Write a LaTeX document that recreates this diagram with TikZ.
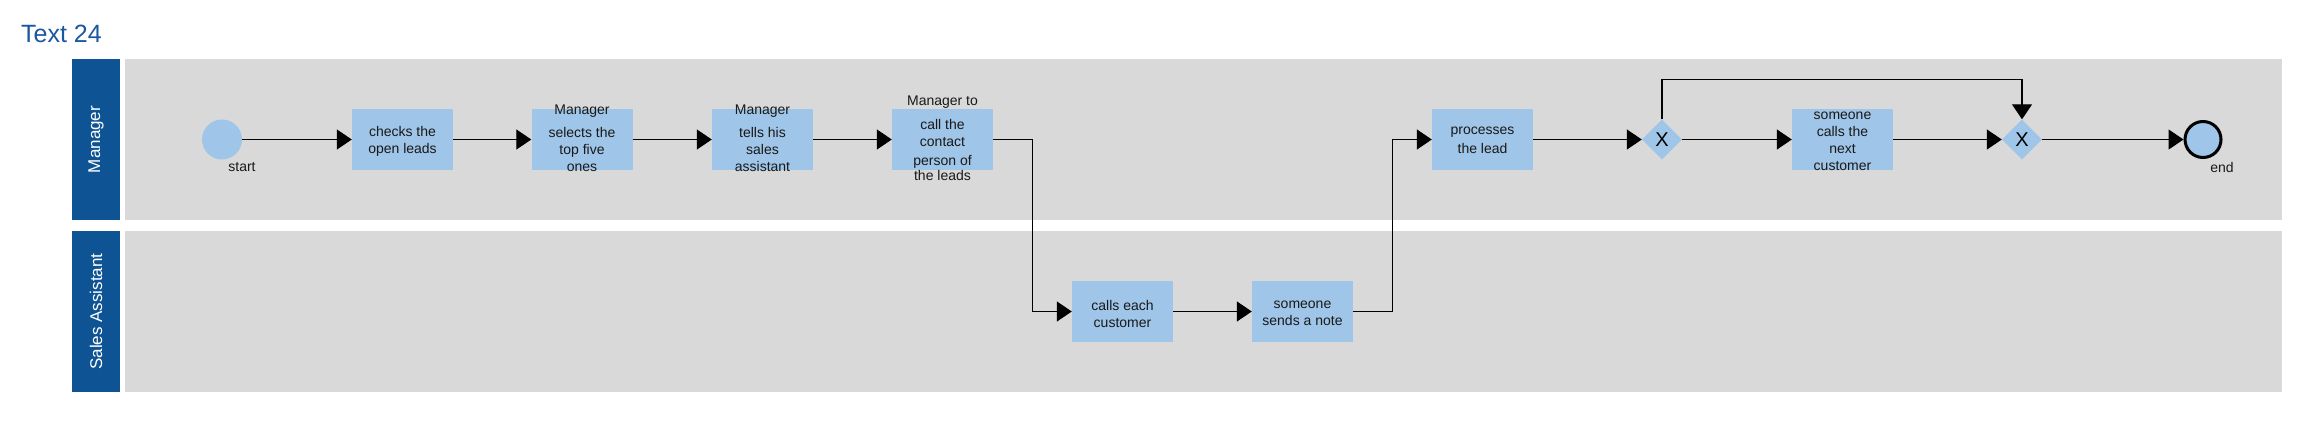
\documentclass[tikz,border=0pt]{standalone}
\usepackage{fontspec}
\setmainfont{Liberation Sans}
\usetikzlibrary{arrows.meta,shapes.geometric}
\definecolor{laneblue}{RGB}{14,83,148}
\definecolor{titleblue}{RGB}{26,88,160}
\definecolor{lanegray}{RGB}{217,217,217}
\definecolor{boxblue}{RGB}{159,197,232}
\begin{document}
\begin{tikzpicture}[x=1pt,y=-1pt,
  lanebar/.style={fill=laneblue,draw=none},
  laneback/.style={fill=lanegray,draw=none},
  lanelabel/.style={rotate=90,text=white,font=\fontsize{17}{20}\selectfont,inner sep=0},
  task/.style={rectangle,fill=boxblue,draw=none,minimum width=101pt,minimum height=61pt,inner sep=0},
  tasktext/.style={align=center,font=\fontsize{14}{17}\selectfont,inner sep=0,text=black!90},
  evtlabel/.style={font=\fontsize{14}{17}\selectfont,inner sep=0,text=black!90},
  gate/.style={diamond,aspect=1,fill=boxblue,draw=none,minimum width=40pt,minimum height=40pt,inner sep=0,font=\fontsize{20}{24}\selectfont},
  startev/.style={circle,fill=boxblue,draw=none,minimum size=40pt,inner sep=0},
  endev/.style={circle,fill=boxblue,draw=black,line width=3pt,minimum size=36pt,inner sep=0},
  flow/.style={draw=black,line width=1.2pt,-{Triangle[length=15pt,width=20pt]}}
]
\useasboundingbox (0,0) rectangle (2299,433);
\fill[white] (0,0) rectangle (2299,433);
% title
\node[anchor=base west,text=titleblue,font=\fontsize{25}{30}\selectfont,inner sep=0] (title) at (21,43) {Text 24};
% lanes
\fill[lanebar] (72,59) rectangle (120,220);
\fill[laneback] (125,59) rectangle (2282,220);
\fill[lanebar] (72,231) rectangle (120,392);
\fill[laneback] (125,231) rectangle (2282,392);
\node[lanelabel] (lmgr) at (96,139.5) {Manager};
\node[lanelabel] (lsa) at (96,311.5) {Sales Assistant};
% events
\node[startev] (start) at (222,139.5) {};
\node[evtlabel] (startlbl) at (242,167) {start};
\node[endev] (end) at (2203,139.5) {};
\node[evtlabel] (endlbl) at (2222,167) {end};
% tasks
\node[task] (b1) at (402.5,139.5) {};
\node[task] (b2) at (582,139.5) {};
\node[task] (b3) at (762.5,139.5) {};
\node[task] (b4) at (942.5,139.5) {};
\node[task] (b5) at (1122.5,311.5) {};
\node[task] (b6) at (1302.5,311.5) {};
\node[task] (b7) at (1482.5,139.5) {};
\node[task] (b8) at (1842.5,139.5) {};
\node[tasktext] (t1) at (402.5,141) {checks the\\open leads};
\node[tasktext] (t2) at (582,138.5) {Manager\\[6pt]selects the\\top five\\ones};
\node[tasktext] (t3) at (762.5,138.5) {Manager\\[6pt]tells his\\sales\\assistant};
\node[tasktext] (t4) at (942.5,137.8) {Manager to\\[7pt]call the\\contact\\[2pt]person of\\[-2pt]the leads};
\node[tasktext] (t5) at (1122.5,313.5) {calls each\\customer};
\node[tasktext] (t6) at (1302.5,313.5) {someone\\sends a note};
\node[tasktext] (t7) at (1482.5,140.5) {processes\\[2pt]the lead};
\node[tasktext] (t8) at (1842.5,141.7) {someone\\calls the\\next\\customer};
% gateways
\node[gate] (g1) at (1662,139.5) {X};
\node[gate] (g2) at (2022,139.5) {X};
% flows
\draw[flow] (start) -- (b1);
\draw[flow] (b1) -- (b2);
\draw[flow] (b2) -- (b3);
\draw[flow] (b3) -- (b4);
\draw[flow] (b4.east) -- ++(39,0) |- (b5.west);
\draw[flow] (b5) -- (b6);
\draw[flow] (b6.east) -- ++(39,0) |- (b7.west);
\draw[flow] (b7) -- (g1);
\draw[flow] (g1) -- (b8);
\draw[flow] (b8) -- (g2);
\draw[flow] (g2) -- (end);
\draw[flow] (g1.north) -- ++(0,-40) -| (g2.north);
\end{tikzpicture}
\end{document}
